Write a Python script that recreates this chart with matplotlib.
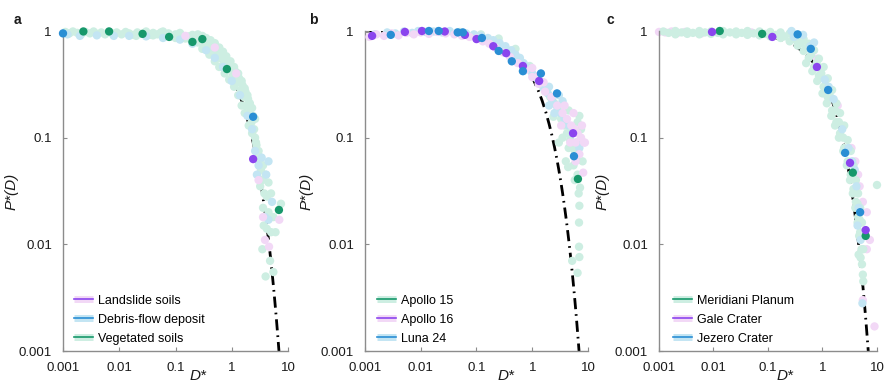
import matplotlib
matplotlib.use("Agg")
import matplotlib.pyplot as plt
from matplotlib.lines import Line2D

plt.rcParams['font.family'] = ['Liberation Sans', 'DejaVu Sans']

# ---------------- fitted model curve (P* vs D*) ----------------
curve_D = [0.001, 0.002, 0.005, 0.01, 0.02, 0.05, 0.1, 0.2, 0.3, 0.5, 0.7, 1.0,
           1.25, 1.5, 1.75, 2.0, 2.25, 2.5, 2.75, 3.0, 3.25, 3.5, 3.75, 4.0,
           4.25, 4.5, 4.75, 5.0, 5.25, 5.5, 5.75, 6.0, 6.25, 6.5, 6.75, 7.0]
curve_P = [0.999, 0.998, 0.995, 0.990, 0.980, 0.951, 0.905, 0.819, 0.741, 0.607, 0.497, 0.368,
           0.2865, 0.223, 0.1738, 0.135, 0.1054, 0.082, 0.0639, 0.0498, 0.0388, 0.0302, 0.0235, 0.0183,
           0.01426, 0.0111, 0.00865, 0.00674, 0.00525, 0.00409, 0.00318, 0.00248, 0.00193, 0.0015, 0.00117, 0.000912]

# ---------------- panel a ----------------
a_veg_light_D = [0.0011, 0.0013, 0.0015, 0.0018, 0.0021, 0.0025, 0.003, 0.0035, 0.004, 0.0048, 0.0056, 0.0065,
                 0.0075, 0.009, 0.011, 0.013, 0.015, 0.018, 0.021, 0.025, 0.03, 0.035, 0.04, 0.048, 0.055,
                 0.065, 0.075, 0.085, 0.1, 0.11, 0.13, 0.15, 0.17, 0.19, 0.22, 0.25, 0.28, 0.32, 0.36, 0.4,
                 0.45, 0.5, 0.55, 0.6, 0.66, 0.72, 0.8, 0.88, 0.95, 1.05, 1.15, 1.25, 1.35, 1.45, 1.55, 1.65,
                 1.75, 1.85, 1.95, 2.05, 2.15, 2.25, 2.4, 2.5, 2.6, 2.75, 2.9, 3.1, 3.3, 3.5, 3.2, 3.8, 4.2,
                 3.6, 4.5, 5.5, 3.7, 4.2, 5.0, 6.0, 3.5, 4.8, 4.0, 5.5, 7.5,
                 0.02, 0.06, 0.12, 0.2, 0.3, 0.45, 0.1, 0.04, 0.7, 1.0,
                 0.25, 0.3, 0.35, 0.42, 0.5, 0.6, 0.7, 0.8, 0.95, 1.1, 1.3, 1.5, 1.7, 1.9, 2.1, 2.3, 2.6,
                 0.3, 0.4, 0.5, 0.6, 0.75, 0.9, 1.1, 1.3, 1.5, 1.7, 2.0, 2.3, 2.7, 3.0, 3.3, 3.6, 4.0, 4.5, 5.0]
a_veg_light_P = [0.98, 0.95, 0.99, 0.96, 0.93, 0.98, 0.95, 0.99, 0.94, 0.97, 0.93, 0.99,
                 0.95, 0.97, 0.93, 0.98, 0.95, 0.92, 0.97, 0.94, 0.99, 0.92, 0.96, 0.93, 0.97,
                 0.91, 0.95, 0.89, 0.93, 0.87, 0.91, 0.85, 0.89, 0.82, 0.86, 0.78, 0.83, 0.74, 0.78, 0.68,
                 0.72, 0.62, 0.66, 0.56, 0.6, 0.5, 0.54, 0.44, 0.48, 0.38, 0.42, 0.33, 0.36, 0.28, 0.31, 0.24,
                 0.27, 0.2, 0.23, 0.17, 0.19, 0.14, 0.16, 0.12, 0.1, 0.085, 0.07, 0.06, 0.05, 0.04, 0.035, 0.03, 0.028,
                 0.022, 0.02, 0.018, 0.015, 0.014, 0.013, 0.013, 0.009, 0.007, 0.005, 0.0055, 0.024,
                 0.9, 0.99, 0.96, 0.92, 0.86, 0.78, 0.86, 0.91, 0.58, 0.43,
                 0.93, 0.9, 0.86, 0.82, 0.77, 0.7, 0.64, 0.58, 0.52, 0.46, 0.4, 0.34, 0.29, 0.25, 0.21, 0.19, 0.15,
                 0.68, 0.6, 0.52, 0.46, 0.4, 0.35, 0.3, 0.25, 0.2, 0.17, 0.13, 0.11, 0.09, 0.075, 0.065, 0.055, 0.045, 0.038, 0.03]
a_deb_light_D = [0.0012, 0.002, 0.004, 0.008, 0.015, 0.03, 0.06, 0.12, 0.2, 0.35, 0.5, 0.7, 1.0, 1.4, 1.9,
                 2.3, 2.6, 3.0, 2.8, 3.4, 4.1, 4.5, 3.9, 4.5, 5.2]
a_deb_light_P = [0.93, 0.9, 0.91, 0.9, 0.9, 0.89, 0.86, 0.83, 0.76, 0.66, 0.56, 0.46, 0.34, 0.25, 0.16,
                 0.12, 0.075, 0.055, 0.045, 0.065, 0.045, 0.06, 0.018, 0.017, 0.025]
a_land_light_D = [0.15, 0.5, 1.2, 3.0, 3.6, 3.9, 4.6, 7.0]
a_land_light_P = [0.9, 0.7, 0.4, 0.04, 0.018, 0.011, 0.0095, 0.017]
a_veg_D = [0.0023, 0.0066, 0.026, 0.077, 0.2, 0.3, 0.82, 6.9]
a_veg_P = [0.99, 0.99, 0.94, 0.88, 0.79, 0.84, 0.44, 0.021]
a_deb_D = [0.001, 2.4]
a_deb_P = [0.95, 0.157]
a_land_D = [2.4]
a_land_P = [0.063]

# ---------------- panel b ----------------
b_a16_light_D = [0.0012, 0.0016, 0.0022, 0.003, 0.004, 0.0055, 0.0075, 0.01, 0.014, 0.02, 0.028, 0.04, 0.055,
                 0.075, 0.1, 0.13, 0.17, 0.22, 0.3, 0.4, 0.55, 0.75, 1.0, 1.3, 1.7, 2.2, 2.8, 3.5, 4.2, 5.0,
                 5.8, 6.5, 7.5, 8.5, 8.2, 6.0, 4.8, 3.3,
                 1.0, 1.3, 1.6, 3.8, 5.5, 7.8, 8.8, 6.0, 7.0]
b_a16_light_P = [0.88, 0.93, 0.9, 0.95, 0.91, 0.96, 0.93, 0.97, 0.94, 0.98, 0.95, 0.93, 0.9,
                 0.88, 0.85, 0.8, 0.76, 0.7, 0.63, 0.57, 0.5, 0.43, 0.37, 0.32, 0.27, 0.24, 0.2, 0.17, 0.15, 0.13,
                 0.12, 0.11, 0.1, 0.09, 0.047, 0.06, 0.09, 0.13,
                 0.45, 0.38, 0.33, 0.2, 0.17, 0.13, 0.09, 0.09, 0.07]
b_luna_light_D = [0.0015, 0.0025, 0.0035, 0.005, 0.007, 0.009, 0.012, 0.017, 0.024, 0.033, 0.045, 0.065, 0.09,
                  0.12, 0.16, 0.2, 0.26, 0.33, 0.42, 0.5, 0.6, 0.7, 0.85, 1.0, 1.2, 1.4, 1.6, 1.9, 2.3, 2.7,
                  3.2, 3.8, 4.5, 5.3, 6.2, 7.0, 3.0, 2.0,
                  2.0, 2.5, 3.5]
b_luna_light_P = [0.93, 0.97, 0.95, 0.99, 0.96, 1.0, 0.98, 0.99, 0.97, 1.0, 0.97, 0.95, 0.93,
                  0.9, 0.86, 0.82, 0.77, 0.72, 0.66, 0.6, 0.56, 0.5, 0.45, 0.4, 0.36, 0.32, 0.29, 0.26, 0.22, 0.2,
                  0.17, 0.15, 0.13, 0.11, 0.09, 0.08, 0.25, 0.3,
                  0.2, 0.17, 0.22]
b_a15_light_D = [0.02, 0.05, 0.12, 0.25, 0.5, 0.9, 1.5, 1.8, 2.1, 2.5, 2.9, 3.3, 3.8, 4.2, 4.8, 5.2, 5.8, 6.3,
                 7.0, 7.5, 3.5, 4.5, 5.5, 6.5, 7.2, 6.8, 7.0, 6.9, 6.9, 5.2, 7.0, 6.5, 4.0, 3.0, 2.4, 4.4,
                 4.5, 6.5, 8.0, 5.0, 5.8]
b_a15_light_P = [0.99, 0.98, 0.93, 0.85, 0.68, 0.47, 0.33, 0.28, 0.24, 0.21, 0.18, 0.15, 0.13, 0.11, 0.095, 0.085,
                 0.075, 0.065, 0.16, 0.12, 0.1, 0.08, 0.055, 0.045, 0.034, 0.03, 0.023, 0.016, 0.0095, 0.007,
                 0.0076, 0.0054, 0.06, 0.09, 0.157, 0.053,
                 0.18, 0.14, 0.06, 0.11, 0.04]
b_a16_D = [0.00134, 0.0052, 0.0105, 0.027, 0.062, 0.1, 0.2, 0.34, 0.68, 1.33, 5.4]
b_a16_P = [0.9, 0.98, 1.0, 0.99, 0.92, 0.84, 0.72, 0.62, 0.47, 0.34, 0.11]
b_luna_D = [0.0029, 0.014, 0.021, 0.046, 0.057, 0.125, 0.25, 0.43, 0.68, 1.43, 2.78, 5.6]
b_luna_P = [0.92, 1.0, 1.0, 0.97, 0.97, 0.86, 0.65, 0.52, 0.42, 0.40, 0.26, 0.067]
b_a15_D = [6.6]
b_a15_P = [0.041]

# ---------------- panel c ----------------
c_mer_light_D = [0.0012, 0.002, 0.0033, 0.0055, 0.009, 0.015, 0.026, 0.042, 0.07, 0.11, 0.17, 0.25, 0.35, 0.45,
                 0.56, 0.7, 0.86, 1.05, 1.25, 1.5, 1.8, 2.1, 2.5, 2.9, 3.3, 3.7, 4.1, 4.5, 4.9, 5.3,
                 0.0015, 0.0026, 0.0042, 0.007, 0.012, 0.02, 0.033, 0.055, 0.09, 0.14, 0.2, 0.3, 0.4, 0.5,
                 0.62, 0.78, 0.95, 1.15, 1.4, 1.7, 2.0, 2.4, 2.8, 3.2, 3.6, 4.0, 4.4, 4.8, 5.2, 5.6,
                 0.002, 0.0033, 0.0055, 0.009, 0.015, 0.026, 0.042, 0.07, 0.11, 0.17, 0.25, 0.35, 0.45,
                 0.56, 0.7, 0.86, 1.05, 1.25, 1.5, 1.8, 2.1, 2.5, 2.9, 3.3, 3.7, 4.1, 4.5, 4.9, 5.2, 5.3,
                 5.5, 5.6, 5.0, 4.6, 10.0,
                 0.5, 0.65, 0.8, 1.0, 1.2, 1.45, 1.7, 2.0, 2.4, 2.8, 3.2, 3.6, 4.0, 4.4, 4.7]
c_mer_light_P = [0.99, 1.0, 0.99, 1.0, 0.99, 1.0, 0.99, 1.0, 0.99, 0.98, 0.97, 0.95, 0.9, 0.84,
                 0.76, 0.66, 0.55, 0.46, 0.36, 0.28, 0.21, 0.17, 0.13, 0.095, 0.075, 0.055, 0.04, 0.03, 0.022, 0.016,
                 0.96, 0.97, 0.96, 0.97, 0.96, 0.97, 0.96, 0.95, 0.94, 0.92, 0.89, 0.84, 0.77, 0.69,
                 0.6, 0.5, 0.4, 0.31, 0.24, 0.18, 0.14, 0.1, 0.075, 0.057, 0.043, 0.032, 0.024, 0.017, 0.012, 0.009,
                 0.93, 0.94, 0.93, 0.94, 0.93, 0.93, 0.92, 0.91, 0.89, 0.86, 0.8, 0.73, 0.65,
                 0.56, 0.46, 0.38, 0.3, 0.24, 0.18, 0.14, 0.11, 0.08, 0.06, 0.045, 0.033, 0.025, 0.018, 0.013, 0.009, 0.0065,
                 0.0052, 0.0045, 0.0075, 0.008, 0.036,
                 0.5, 0.42, 0.34, 0.26, 0.21, 0.16, 0.13, 0.1, 0.075, 0.055, 0.04, 0.03, 0.022, 0.016, 0.012]
c_jez_light_D = [0.27, 0.44, 0.3, 0.6, 0.7, 1.1, 1.3, 1.6, 2.3, 3.0, 3.5, 3.9, 4.2, 4.6, 4.4, 5.0, 5.4]
c_jez_light_P = [1.0, 0.92, 0.88, 0.72, 0.78, 0.35, 0.3, 0.23, 0.12, 0.08, 0.06, 0.05, 0.035, 0.022, 0.015, 0.011, 0.0028]
c_gale_light_D = [0.001, 0.0013, 0.0017, 0.0022, 0.003, 0.006, 0.05, 0.4, 0.8, 1.9, 3.4, 4.0, 4.5, 4.8, 5.5,
                  6.5, 7.4, 6.5, 5.8, 9.0, 5.5]
c_gale_light_P = [0.98, 0.97, 0.99, 0.96, 0.98, 0.95, 0.97, 0.85, 0.55, 0.2, 0.08, 0.06, 0.045, 0.035, 0.025,
                  0.02, 0.011, 0.009, 0.012, 0.0017, 0.003]
c_gale_D = [0.0094, 0.12, 0.79, 3.2, 6.2]
c_gale_P = [0.98, 0.88, 0.46, 0.058, 0.0136]
c_jez_D = [0.35, 0.61, 1.27, 2.6, 4.9]
c_jez_P = [0.93, 0.68, 0.28, 0.072, 0.02]
c_mer_D = [0.013, 0.078, 3.6, 6.2]
c_mer_P = [1.0, 0.94, 0.047, 0.012]

# ---------------- ticks / labels ----------------
x_ticks = [0.001, 0.01, 0.1, 1, 10]
x_tick_labels = ['0.001', '0.01', '0.1', '1', '10']
y_ticks = [0.001, 0.01, 0.1, 1]
y_tick_labels = ['0.001', '0.01', '0.1', '1']
legend_a = ['Landslide soils', 'Debris-flow deposit', 'Vegetated soils']
legend_b = ['Apollo 15', 'Apollo 16', 'Luna 24']
legend_c = ['Meridiani Planum', 'Gale Crater', 'Jezero Crater']

# colours
PURPLE, PINK = '#8b45ee', '#f2d8f6'
BLUE, CYAN = '#2a8ed4', '#c3e5f3'
GREEN, MINT = '#17986b', '#cdeee2'

fig = plt.figure(figsize=(8.87, 3.84), dpi=100)
W, H = 887, 384
pos = [(63, 225), (365, 223), (659, 218)]
axes = []
for left, width in pos:
    ax = fig.add_axes([left / W, (H - 351) / H, width / W, 320 / H])
    axes.append(ax)

MS = 36  # marker area


def style(ax, ylab_x, xlab_x):
    ax.set_xscale('log')
    ax.set_yscale('log')
    ax.set_xlim(0.001, 10)
    ax.set_ylim(0.001, 1)
    ax.set_xticks(x_ticks)
    ax.set_xticklabels(x_tick_labels)
    ax.set_yticks(y_ticks)
    ax.set_yticklabels(y_tick_labels)
    ax.minorticks_off()
    for s in ['top', 'right']:
        ax.spines[s].set_visible(False)
    for s in ['left', 'bottom']:
        ax.spines[s].set_color('#8c8c8c')
        ax.spines[s].set_linewidth(1.0)
    ax.tick_params(direction='in', length=3, width=0.8, color='#8c8c8c',
                   labelsize=9.5, labelcolor='#1a1a1a', pad=8)
    ax.set_ylabel('P*(D)', fontsize=11, style='italic', color='#1a1a1a')
    ax.yaxis.set_label_coords(ylab_x, 0.5)
    ax.set_xlabel('D*', fontsize=11, style='italic', color='#1a1a1a')
    ax.xaxis.set_label_coords(xlab_x, -0.1)
    ax.xaxis.label.set_va('bottom')


def draw_curve(ax):
    ax.plot(curve_D, curve_P, color='black', lw=2.0,
            linestyle=(0, (4, 1.8, 0.6, 1.8)), zorder=1, clip_on=True)


def sc(ax, D, P, c, z):
    ax.scatter(D, P, s=MS, color=c, edgecolors='none', zorder=z, clip_on=False)


def legend(ax, labels, darks, lights, x0):
    handles = [(Line2D([], [], color=l, lw=5, solid_capstyle='butt'),
                Line2D([], [], color=d, lw=1.2)) for d, l in zip(darks, lights)]
    ax.legend(handles, labels, loc='lower left', bbox_to_anchor=(x0, 0.02),
              frameon=False, fontsize=9, handlelength=1.5, handletextpad=0.45,
              labelspacing=0.55, borderpad=0, borderaxespad=0)


# panel a
ax = axes[0]
draw_curve(ax)
sc(ax, a_veg_light_D, a_veg_light_P, MINT, 2)
sc(ax, a_deb_light_D, a_deb_light_P, CYAN, 3)
sc(ax, a_land_light_D, a_land_light_P, PINK, 3)
sc(ax, a_veg_D, a_veg_P, GREEN, 5)
sc(ax, a_deb_D, a_deb_P, BLUE, 5)
sc(ax, a_land_D, a_land_P, PURPLE, 5)
style(ax, -0.196, 0.6)
legend(ax, legend_a, [PURPLE, BLUE, GREEN], [PINK, CYAN, MINT], 0.049)

# panel b
ax = axes[1]
draw_curve(ax)
sc(ax, b_a15_light_D, b_a15_light_P, MINT, 2)
sc(ax, b_luna_light_D, b_luna_light_P, CYAN, 2)
sc(ax, b_a16_light_D, b_a16_light_P, PINK, 3)
sc(ax, b_a15_D, b_a15_P, GREEN, 5)
sc(ax, b_a16_D, b_a16_P, PURPLE, 5)
sc(ax, b_luna_D, b_luna_P, BLUE, 5)
style(ax, -0.23, 0.63)
legend(ax, legend_b, [GREEN, PURPLE, BLUE], [MINT, PINK, CYAN], 0.054)

# panel c
ax = axes[2]
draw_curve(ax)
sc(ax, c_gale_light_D, c_gale_light_P, PINK, 2)
sc(ax, c_mer_light_D, c_mer_light_P, MINT, 2)
sc(ax, c_jez_light_D, c_jez_light_P, CYAN, 3)
sc(ax, c_mer_D, c_mer_P, GREEN, 5)
sc(ax, c_gale_D, c_gale_P, PURPLE, 5)
sc(ax, c_jez_D, c_jez_P, BLUE, 5)
style(ax, -0.225, 0.58)
legend(ax, legend_c, [GREEN, PURPLE, BLUE], [MINT, PINK, CYAN], 0.064)

# panel letters
for x, letter in [(17, 'a'), (313, 'b'), (610, 'c')]:
    fig.text(x / W, 1 - 20 / H, letter, fontsize=10, fontweight='bold',
             ha='center', va='center', color='#1a1a1a')

fig.savefig('out.png', dpi=100)
